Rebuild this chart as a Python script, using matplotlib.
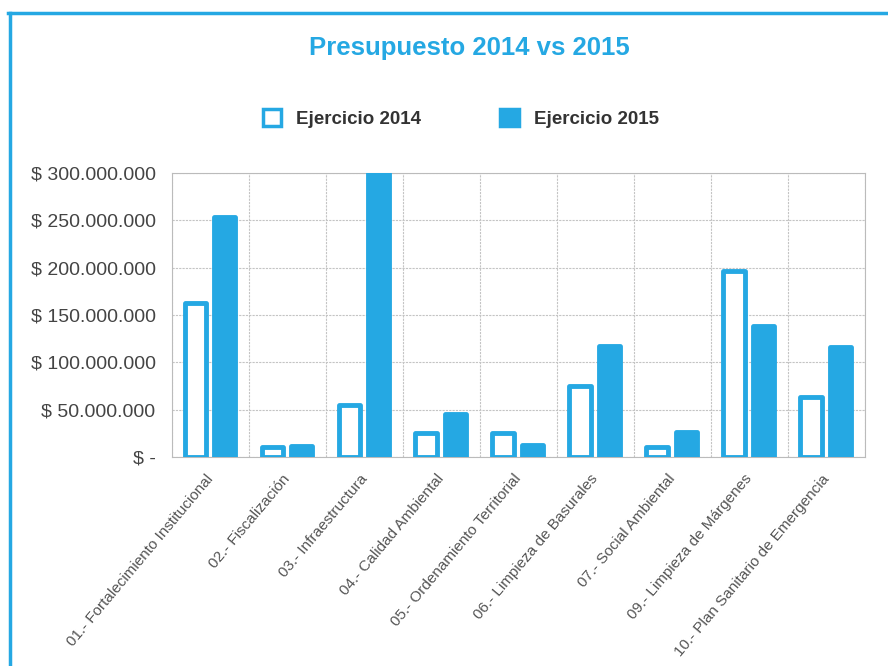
import matplotlib
matplotlib.use("Agg")
import matplotlib.pyplot as plt
import numpy as np
from matplotlib.lines import Line2D
from matplotlib.patches import Patch
from matplotlib.ticker import FuncFormatter, MultipleLocator

plt.rcParams['font.family'] = ['Liberation Sans', 'DejaVu Sans']

categorias = [
    "01.- Fortalecimiento Institucional",
    "02.- Fiscalización",
    "03.- Infraestructura",
    "04.- Calidad Ambiental",
    "05.- Ordenamiento Territorial",
    "06.- Limpieza de Basurales",
    "07.- Social Ambiental",
    "09.- Limpieza de Márgenes",
    "10.- Plan Sanitario de Emergencia",
]
ejercicio_2014 = [163e6, 10e6, 55e6, 25e6, 25e6, 75e6, 10e6, 197e6, 63e6]
ejercicio_2015 = [254e6, 11e6, 300e6, 45e6, 13e6, 117e6, 26e6, 138e6, 116e6]

azul = "#25a8e3"

fig = plt.figure(figsize=(8.88, 6.66), dpi=100)
ax = fig.add_axes([0.194, 0.314, 0.78, 0.426])

x = np.arange(len(categorias))
w = 0.28
ax.bar(x - 0.2, ejercicio_2014, w, facecolor="white", edgecolor=azul,
       linewidth=3.5, joinstyle="round", zorder=3)
ax.bar(x + 0.18, ejercicio_2015, w, facecolor=azul, edgecolor=azul,
       linewidth=3.5, joinstyle="round", zorder=3)

ax.set_xlim(-0.5, len(categorias) - 0.5)
ax.set_ylim(0, 300e6)
ax.yaxis.set_major_locator(MultipleLocator(50e6))


def fmt(v, pos):
    if v == 0:
        return "$ -"
    return "$ " + f"{int(v):,}".replace(",", ".")


ax.yaxis.set_major_formatter(FuncFormatter(fmt))
ax.set_xticks(x)
ax.set_xticklabels(categorias, rotation=50, ha="right", va="center",
                   rotation_mode="anchor", fontsize=11, color="#555555")
ax.tick_params(axis="y", length=0, labelsize=14, labelcolor="#444444", pad=12)
ax.tick_params(axis="x", length=0, pad=14)

# grilla
ax.set_xticks(np.arange(len(categorias) + 1) - 0.5, minor=True)
ax.tick_params(axis="x", which="minor", length=0)
ax.grid(True, which="minor", axis="x", color="#c4c4c4", linestyle=(0, (2, 1)), linewidth=0.8)
ax.grid(True, which="major", axis="y", color="#c4c4c4", linestyle=(0, (2, 1)), linewidth=0.8)
ax.set_axisbelow(True)
for s in ax.spines.values():
    s.set_color("#bbbbbb")
    s.set_linewidth(0.8)

fig.text(0.529, 0.928, "Presupuesto 2014 vs 2015", ha="center", va="center",
         fontsize=18.5, fontweight="bold", color=azul)

handles = [Patch(facecolor="white", edgecolor=azul, linewidth=2.5, label="Ejercicio 2014"),
           Patch(facecolor=azul, edgecolor=azul, linewidth=2.5, label="Ejercicio 2015")]
leg = fig.legend(handles=handles, loc="center", bbox_to_anchor=(0.519, 0.822), ncol=2,
                 frameon=False, fontsize=13.5, handlelength=1.0, handleheight=1.0,
                 columnspacing=4.2, handletextpad=0.8)
for t in leg.get_texts():
    t.set_fontweight("bold")
    t.set_color("#333333")

# marco azul (solo borde superior e izquierdo visibles)
fig.add_artist(Line2D([0.009, 1.0], [0.981, 0.981], transform=fig.transFigure,
                      color=azul, linewidth=2.5))
fig.add_artist(Line2D([0.011, 0.011], [0.0, 0.981], transform=fig.transFigure,
                      color=azul, linewidth=2.5))

fig.savefig("out.png", dpi=100)
